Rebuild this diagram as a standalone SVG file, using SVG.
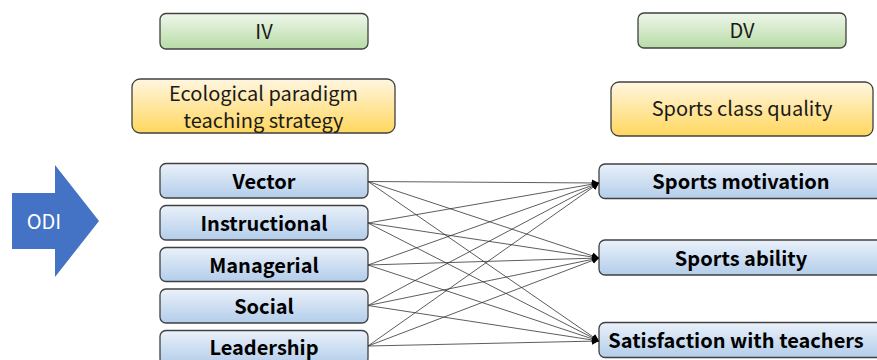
<svg xmlns="http://www.w3.org/2000/svg" width="877" height="360" viewBox="0 0 877 360">
<defs>
<linearGradient id="gGreen" x1="0" y1="0" x2="0" y2="1"><stop offset="0" stop-color="#eef7ea"/><stop offset="1" stop-color="#b8dba6"/></linearGradient>
<linearGradient id="gYellow" x1="0" y1="0" x2="0" y2="1"><stop offset="0" stop-color="#fff6e0"/><stop offset="1" stop-color="#ffd75e"/></linearGradient>
<linearGradient id="gBlue" x1="0" y1="0" x2="0" y2="1"><stop offset="0" stop-color="#eaf1fa"/><stop offset="1" stop-color="#b3cdea"/></linearGradient>
<marker id="arr" markerWidth="8" markerHeight="8" refX="7" refY="4" orient="auto" markerUnits="userSpaceOnUse"><path d="M0,0.5 L7,4 L0,7.5 Z" fill="#000"/></marker>
<style>
.box{stroke:#404040;stroke-width:1.3}
.g{fill:url(#gGreen)}
.y{fill:url(#gYellow)}
.b{fill:url(#gBlue)}
.t{font-family:"Noto Sans CJK SC","Noto Sans",sans-serif;font-size:20px;fill:#1a1a1a;text-anchor:middle}
.tb{font-family:"Noto Sans CJK SC","Noto Sans",sans-serif;font-size:20px;font-weight:bold;fill:#000;text-anchor:middle}
.c{stroke:#333;stroke-width:0.8;fill:none;marker-end:url(#arr)}
</style>
</defs>
<rect width="877" height="360" fill="#fff"/>
<g id="odi">
<path d="M12,193 L55,193 L55,165 L99,221 L55,277 L55,249 L12,249 Z" fill="#4472c4"/>
<text x="44" y="229" font-family="Noto Sans CJK SC,Noto Sans,sans-serif" font-size="20" fill="#fff" text-anchor="middle">ODI</text>
</g>
<g id="iv"><rect class="box g" x="160" y="13.5" width="208" height="35.5" rx="6"/><text class="t" x="264" y="38.5">IV</text></g>
<g id="dv"><rect class="box g" x="638" y="13" width="208" height="35" rx="6"/><text class="t" x="742" y="38">DV</text></g>
<g id="eco"><rect class="box y" x="132" y="79" width="263" height="54" rx="8"/><text class="t" x="263.5" y="100.5">Ecological paradigm</text><text class="t" x="263.5" y="127.5">teaching strategy</text></g>
<g id="scq"><rect class="box y" x="611" y="82" width="262" height="54" rx="8"/><text class="t" x="742" y="116">Sports class quality</text></g>
<g id="vector"><rect class="box b" x="160" y="163.5" width="208" height="34.5" rx="6"/><text class="tb" x="264" y="189">Vector</text></g>
<g id="instructional"><rect class="box b" x="160" y="205.5" width="208" height="34.5" rx="6"/><text class="tb" x="264" y="231">Instructional</text></g>
<g id="managerial"><rect class="box b" x="160" y="247.5" width="208" height="34" rx="6"/><text class="tb" x="264" y="273">Managerial</text></g>
<g id="social"><rect class="box b" x="160" y="289" width="208" height="34" rx="6"/><text class="tb" x="264" y="314">Social</text></g>
<g id="leadership"><rect class="box b" x="160" y="330.5" width="208" height="34" rx="6"/><text class="tb" x="264" y="355">Leadership</text></g>
<g id="motivation"><rect class="box b" x="599" y="164" width="285" height="34.5" rx="6"/><text class="tb" x="741" y="189">Sports motivation</text></g>
<g id="ability"><rect class="box b" x="599" y="240" width="285" height="35" rx="6"/><text class="tb" x="741" y="265.5">Sports ability</text></g>
<g id="satisfaction"><rect class="box b" x="599" y="322.5" width="285" height="35" rx="6"/><text class="tb" x="736" y="348">Satisfaction with teachers</text></g>
<g id="connectors">
<path class="c" d="M368,181.5 L599,183"/>
<path class="c" d="M368,181.5 L599,258"/>
<path class="c" d="M368,181.5 L599,341"/>
<path class="c" d="M368,223 L599,183"/>
<path class="c" d="M368,223 L599,258"/>
<path class="c" d="M368,223 L599,341"/>
<path class="c" d="M368,265 L599,183"/>
<path class="c" d="M368,265 L599,258"/>
<path class="c" d="M368,265 L599,341"/>
<path class="c" d="M368,305.5 L599,183"/>
<path class="c" d="M368,305.5 L599,258"/>
<path class="c" d="M368,305.5 L599,341"/>
<path class="c" d="M368,346 L599,183"/>
<path class="c" d="M368,346 L599,258"/>
<path class="c" d="M368,346 L599,341"/>
</g>
</svg>
